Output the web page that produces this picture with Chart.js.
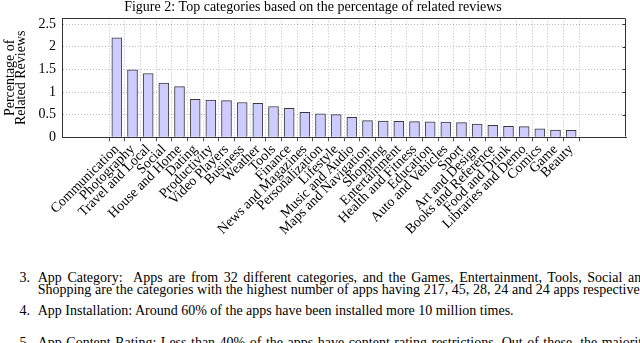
<!DOCTYPE html>
<html><head><meta charset="utf-8">
<script src="https://cdn.jsdelivr.net/npm/chart.js@4.4.1/dist/chart.umd.min.js"></script>
<style>
html,body{margin:0;padding:0;background:#fff;}
body{width:640px;height:343px;overflow:hidden;position:relative;font-family:'Liberation Serif','Times New Roman',serif;}
#wrap{position:absolute;left:0;top:0;width:640px;height:245px;}
.t{position:absolute;white-space:nowrap;font-size:14px;line-height:14px;color:#000;}
.n{position:absolute;left:0;width:30px;text-align:right;white-space:nowrap;font-size:14px;line-height:14px;color:#000;}
</style></head><body>
<div id="wrap"><canvas id="c"></canvas></div>
<div class="n" style="top:271px">3.</div>
<div class="t" style="left:37.7px;top:271px;word-spacing:2.1px">App Category:&nbsp; Apps are from 32 different categories, and the Games, Entertainment, Tools, Social and</div>
<div class="t" style="left:37.7px;top:282.6px;word-spacing:0.2px">Shopping are the categories with the highest number of apps having 217, 45, 28, 24 and 24 apps respectively.</div>
<div class="n" style="top:303.6px">4.</div>
<div class="t" style="left:37.7px;top:303.6px">App Installation: Around 60% of the apps have been installed more 10 million times.</div>
<div class="n" style="top:336.3px">5.</div>
<div class="t" style="left:37.7px;top:336.3px;word-spacing:1px">App Content Rating: Less than 40% of the apps have content rating restrictions. Out of these, the majority</div>
<script>
const categories = ["Communication","Photography","Travel and Local","Social","House and Home","Dating","Productivity","Video Players","Business","Weather","Tools","Finance","News and Magazines","Personalization","Lifestyle","Music and Audio","Maps and Navigation","Shopping","Entertainment","Health and Fitness","Education","Auto and Vehicles","Sport","Art and Design","Books and Reference","Food and Drink","Libraries and Demo","Comics","Game","Beauty"];
const reviewPct = [2.20,1.49,1.41,1.20,1.12,0.84,0.82,0.81,0.77,0.75,0.68,0.64,0.55,0.52,0.50,0.44,0.37,0.36,0.355,0.345,0.34,0.335,0.325,0.29,0.265,0.24,0.235,0.185,0.16,0.155];
const yTickValues = [0,0.5,1,1.5,2,2.5];
const titleText = "Figure 2: Top categories based on the percentage of related reviews";
const yTitle = ["Percentage of","Related Reviews"];

const FONT = "'Liberation Serif','Times New Roman',serif";
const gridColor = 'rgba(0,0,0,0.25)';
const frameColor = '#333';

const framePlugin = {
  id: 'frame',
  afterDatasetsDraw(chart) {
    const {ctx, chartArea: a, scales: {y}} = chart;
    const L = Math.round(a.left) + 0.5, R = Math.round(a.right) - 0.5;
    const T = Math.round(a.top) + 0.5, B = Math.round(a.bottom) - 0.5;
    ctx.save();
    ctx.strokeStyle = frameColor;
    ctx.lineWidth = 1;
    ctx.beginPath();
    ctx.moveTo(L, T); ctx.lineTo(R, T); ctx.lineTo(R, B);
    ctx.stroke();
    yTickValues.forEach(v => {
      const py = Math.round(y.getPixelForValue(v)) + 0.5;
      ctx.beginPath(); ctx.moveTo(R, py); ctx.lineTo(R - 3, py); ctx.stroke();
    });
    ctx.restore();
  }
};

new Chart(document.getElementById('c'), {
  type: 'bar',
  data: {
    datasets: [{
      data: reviewPct.map((v, i) => ({x: i, y: v})),
      backgroundColor: '#ccccff',
      borderColor: '#3a3a3a',
      borderWidth: 1,
      barThickness: 10
    }]
  },
  options: {
    responsive: true,
    maintainAspectRatio: false,
    animation: false,
    devicePixelRatio: 1,
    layout: {padding: {left: 0, right: 14, top: 0, bottom: 0}},
    plugins: {
      legend: {display: false},
      tooltip: {enabled: false},
      title: {
        display: true, text: titleText, color: '#000',
        font: {family: FONT, size: 14, weight: 'normal', lineHeight: 1.1},
        padding: {top: 0, bottom: 2.9}
      }
    },
    scales: {
      x: {
        type: 'linear',
        min: -2.9,
        max: categories.length - 1 + 2.9,
        afterBuildTicks: axis => { axis.ticks = categories.map((_, i) => ({value: i})); },
        afterFit: scale => { scale.height = 245 - 137.3; },
        ticks: {
          autoSkip: false, minRotation: 45, maxRotation: 45, color: '#000', padding: 0,
          font: {family: FONT, size: 14},
          callback: v => categories[v]
        },
        grid: {color: gridColor, lineWidth: 1, drawTicks: true, tickLength: 4, tickColor: '#555'},
        border: {display: true, color: frameColor, width: 1, dash: [1, 2]}
      },
      y: {
        type: 'linear',
        min: 0,
        max: 2.63,
        afterBuildTicks: axis => { axis.ticks = yTickValues.map(v => ({value: v})); },
        afterFit: scale => { scale.width = 62; },
        ticks: {color: '#000', padding: 6, font: {family: FONT, size: 14}, callback: v => String(v)},
        grid: {color: gridColor, lineWidth: 1, drawTicks: false},
        border: {display: true, color: frameColor, width: 1, dash: [1, 2]},
        title: {
          display: true, text: yTitle, color: '#000',
          font: {family: FONT, size: 14, lineHeight: 0.84},
          padding: {top: 4.1, bottom: 0}
        }
      }
    }
  },
  plugins: [framePlugin]
});
</script>
</body></html>
